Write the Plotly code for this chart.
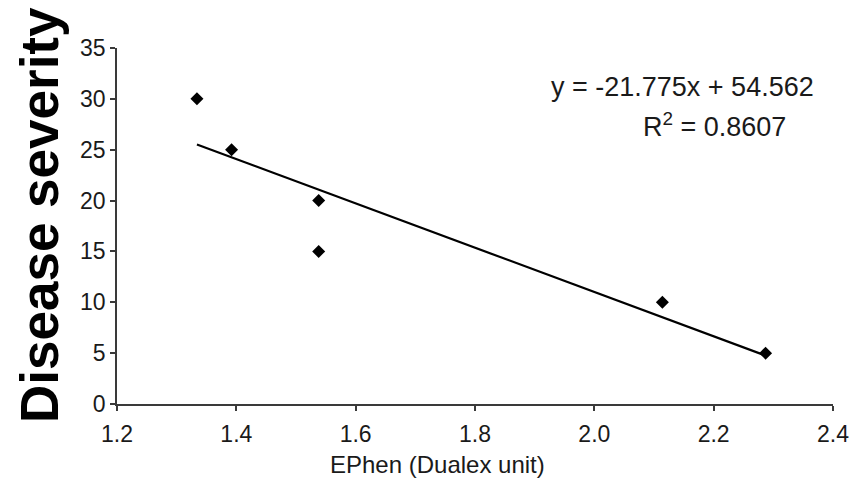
import plotly.graph_objects as go

# Measured leaf EPhen (Dualex units) and disease severity scores
ephen = [1.334, 1.392, 1.538, 1.538, 2.114, 2.287]
severity = [30, 25, 20, 15, 10, 5]

# Linear fit reported for the data
slope = -21.775
intercept = 54.562
r_squared = 0.8607

x_ticks = [1.2, 1.4, 1.6, 1.8, 2.0, 2.2, 2.4]
x_tick_text = ["1.2", "1.4", "1.6", "1.8", "2.0", "2.2", "2.4"]
y_ticks = [0, 5, 10, 15, 20, 25, 30, 35]

fit_x = [min(ephen), max(ephen)]
fit_y = [slope * v + intercept for v in fit_x]

fig = go.Figure()
fig.add_trace(go.Scatter(
    x=fit_x, y=fit_y, mode="lines",
    line=dict(color="black", width=2.2),
    showlegend=False, hoverinfo="skip",
))
fig.add_trace(go.Scatter(
    x=ephen, y=severity, mode="markers",
    marker=dict(symbol="diamond", size=10, color="black"),
    showlegend=False,
))

font_family = "Liberation Sans, Arial, sans-serif"
text_color = "#1a1a1a"

fig.update_layout(
    width=861, height=491, autosize=False,
    margin=dict(l=117, r=24, t=48, b=87),
    paper_bgcolor="white", plot_bgcolor="white",
    font=dict(family=font_family, color=text_color),
    xaxis=dict(
        range=[1.2, 2.4], tickvals=x_ticks, ticktext=x_tick_text,
        showgrid=False, zeroline=False,
        showline=True, linecolor="#3a3a3a", linewidth=1.5,
        ticks="outside", ticklen=5, tickcolor="#3a3a3a", tickwidth=1.5,
        ticklabelstandoff=4,
        tickfont=dict(size=23, family=font_family, color=text_color),
    ),
    yaxis=dict(
        range=[0, 35], tickvals=y_ticks,
        showgrid=False, zeroline=False,
        showline=True, linecolor="#3a3a3a", linewidth=1.5,
        ticks="outside", ticklen=5, tickcolor="#3a3a3a", tickwidth=1.5,
        tickfont=dict(size=23, family=font_family, color=text_color),
    ),
    annotations=[
        dict(text="<b>Disease severity</b>", xref="paper", yref="paper",
             x=-0.108, y=0.53, textangle=-90, showarrow=False,
             xanchor="center", yanchor="middle",
             font=dict(size=53, family=font_family, color="black")),
        dict(text="EPhen (Dualex unit)", xref="paper", yref="paper",
             x=0.447, y=-0.171, showarrow=False,
             xanchor="center", yanchor="middle",
             font=dict(size=24, family=font_family, color=text_color)),
        dict(text=f"y = {slope}x + {intercept}", xref="paper", yref="paper",
             x=0.79, y=0.89, showarrow=False,
             xanchor="center", yanchor="middle",
             font=dict(size=27, family=font_family, color=text_color)),
        dict(text=f"R<sup>2</sup> = {r_squared}", xref="paper", yref="paper",
             x=0.835, y=0.783, showarrow=False,
             xanchor="center", yanchor="middle",
             font=dict(size=27, family=font_family, color=text_color)),
    ],
)

fig.write_html("out.html")
